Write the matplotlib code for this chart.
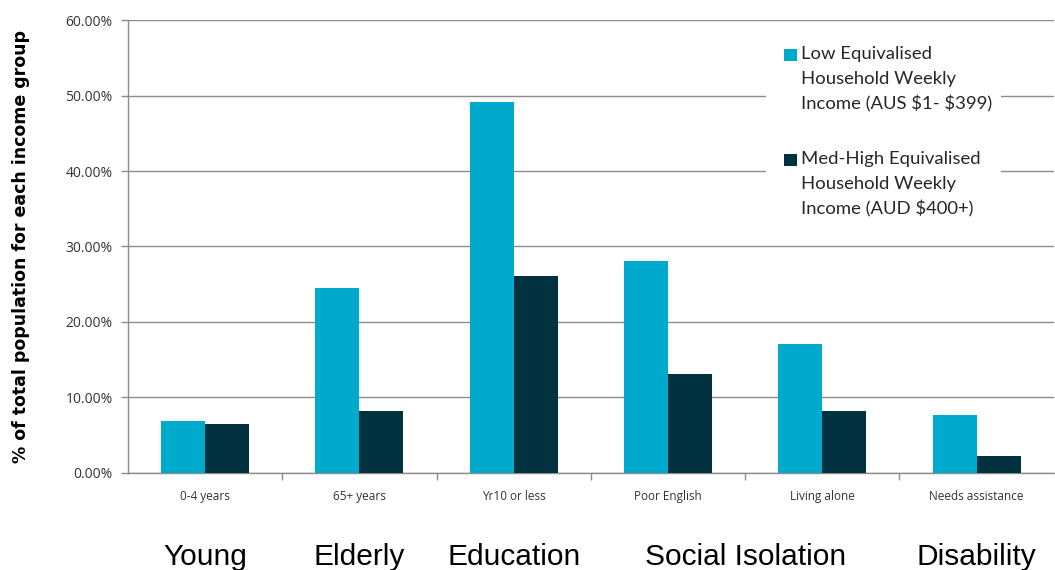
import numpy as np
import matplotlib.pyplot as plt
from matplotlib.patches import Rectangle
from matplotlib.ticker import PercentFormatter

# Indicadores por grupo de renda
categorias = ['0-4 years', '65+ years', 'Yr10 or less', 'Poor English', 'Living alone', 'Needs assistance']
renda_baixa = [6.9, 24.5, 49.2, 28.1, 17.1, 7.7]
renda_media_alta = [6.5, 8.2, 26.1, 13.1, 8.2, 2.3]

# Grupos de vulnerabilidade e os indicadores que cobrem
grupos = ['Young', 'Elderly', 'Education', 'Social Isolation', 'Disability']
grupos_idx = [[0], [1], [2], [3, 4], [5]]

rotulos = ['Low Equivalised\nHousehold Weekly\nIncome (AUS \\$1- \\$399)',
           'Med-High Equivalised\nHousehold Weekly\nIncome (AUD \\$400+)']

cor_clara = '#00AACC'
cor_escura = '#02313F'
cinza = '#8C8C8C'

fig = plt.figure(figsize=(10.55, 5.70), dpi=100)
ax = fig.add_axes([0.1213, 0.1702, 0.8775, 0.7947])

x = np.arange(len(categorias))
larg = 0.285
ax.bar(x - larg / 2, renda_baixa, larg, color=cor_clara, zorder=3)
ax.bar(x + larg / 2, renda_media_alta, larg, color=cor_escura, zorder=3)

ax.set_xlim(-0.5, len(categorias) - 0.5)
ax.set_ylim(0, 60)
ax.set_yticks(np.arange(0, 61, 10))
ax.yaxis.set_major_formatter(PercentFormatter(decimals=2))
ax.grid(axis='y', color=cinza, linewidth=1, zorder=0)

ax.set_xticks(x)
ax.set_xticklabels(categorias, fontsize=8.5, color='#333333', family='Open Sans')
ax.set_xticks(np.arange(0.5, len(categorias) - 0.5, 1), minor=True)
ax.tick_params(axis='x', which='major', length=0, pad=12)
ax.tick_params(axis='x', which='minor', length=5, color=cinza, width=1)
ax.tick_params(axis='y', length=5, color=cinza, width=1, labelsize=10,
               labelcolor='#333333', pad=6)
for lbl in ax.get_yticklabels():
    lbl.set_family('Open Sans')

for lado in ['top', 'right']:
    ax.spines[lado].set_visible(False)
for lado in ['left', 'bottom']:
    ax.spines[lado].set_color(cinza)
    ax.spines[lado].set_linewidth(1)

ax.set_ylabel('% of total population for each income group', fontsize=12.5,
              fontweight='bold', family='DejaVu Sans')
ax.yaxis.set_label_coords(-0.106, 0.5)

# Nomes dos grupos abaixo dos indicadores
trans = ax.get_xaxis_transform()
for nome, idx in zip(grupos, grupos_idx):
    ax.text(np.mean(idx), -0.203, nome, transform=trans, ha='center', va='baseline',
            fontsize=21.5, family='Liberation Sans')

# Legenda montada a mão: fundo branco, quadrado alinhado à primeira linha
W, H = fig.get_size_inches() * fig.dpi
fig.patches.append(Rectangle((766 / W, 1 - 226 / H), 235 / W, 186 / H,
                             transform=fig.transFigure, facecolor='white',
                             edgecolor='none', zorder=2))
for i, (rot, cor) in enumerate(zip(rotulos, [cor_clara, cor_escura])):
    topo = 48 + i * 105
    fig.patches.append(Rectangle((784 / W, 1 - (topo + 13) / H), 13 / W, 12 / H,
                                 transform=fig.transFigure, facecolor=cor,
                                 edgecolor='none', zorder=3))
    fig.text(801 / W, 1 - (topo - 2) / H, rot, ha='left', va='top', fontsize=13.3,
             family='Lato', color='#262626', linespacing=1.66, zorder=4)

fig.savefig('out.png', dpi=100)
